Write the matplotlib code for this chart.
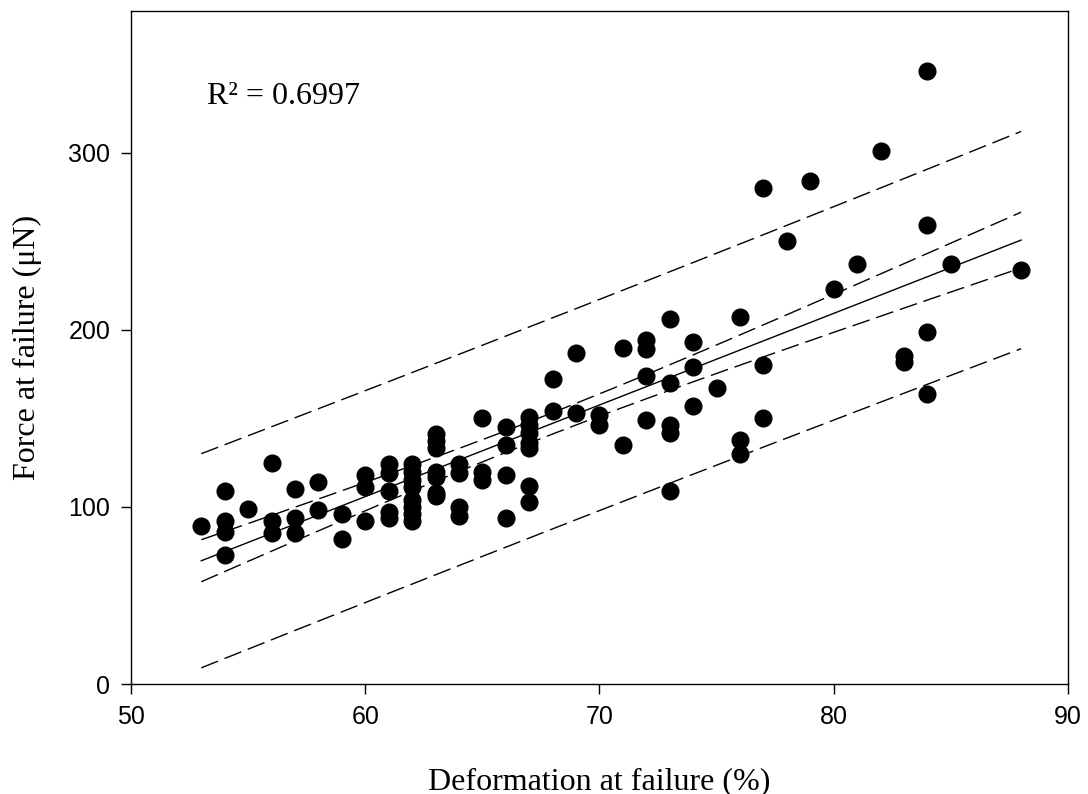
import numpy as np
import matplotlib
matplotlib.use('Agg')
import matplotlib.pyplot as plt

# deformation (%) and force (uN) at failure, grouped by deformation value
deformation = [53,
               54, 54, 54, 54,
               55,
               56, 56, 56,
               57, 57, 57,
               58, 58,
               59, 59,
               60, 60, 60,
               61, 61, 61, 61, 61,
               62, 62, 62, 62, 62, 62, 62, 62,
               63, 63, 63, 63, 63, 63, 63,
               64, 64, 64, 64,
               65, 65, 65,
               66, 66, 66, 66,
               67, 67, 67, 67, 67, 67, 67,
               68, 68,
               69, 69,
               70, 70,
               71, 71,
               72, 72, 72, 72,
               73, 73, 73, 73, 73,
               74, 74, 74,
               75,
               76, 76, 76,
               77, 77, 77,
               78, 79, 80, 81, 82,
               83, 83,
               84, 84, 84, 84,
               85, 88]
force = [89,
         109, 92, 86, 73,
         99,
         125, 92, 85,
         110, 94, 85,
         114, 98,
         96, 82,
         118, 111, 92,
         124, 119, 109, 97, 94,
         124, 120, 115, 111, 104, 100, 96, 92,
         141, 137, 133, 120, 117, 108, 106,
         124, 119, 100, 95,
         150, 120, 115,
         145, 135, 118, 94,
         151, 146, 142, 136, 133, 112, 103,
         172, 154,
         187, 153,
         152, 146,
         190, 135,
         194, 189, 174, 149,
         206, 170, 146, 142, 109,
         193, 179, 157,
         167,
         207, 138, 130,
         280, 180, 150,
         250, 284, 223, 237, 301,
         185, 182,
         346, 259, 199, 164,
         237, 234]

r2_label = 'R\u00b2 = 0.6997'
t_crit = 1.985  # two-sided 95%, df = n - 2

x = np.array(deformation, dtype=float)
y = np.array(force, dtype=float)
n = len(x)

slope, intercept = np.polyfit(x, y, 1)
resid = y - (intercept + slope * x)
s = np.sqrt((resid ** 2).sum() / (n - 2))
sxx = ((x - x.mean()) ** 2).sum()

xs = np.linspace(x.min(), x.max(), 200)
fit = intercept + slope * xs
se_mean = s * np.sqrt(1.0 / n + (xs - x.mean()) ** 2 / sxx)
se_pred = s * np.sqrt(1.0 + 1.0 / n + (xs - x.mean()) ** 2 / sxx)

serif = 'Liberation Serif'
sans = 'Liberation Sans'

fig = plt.figure(figsize=(10.88, 7.94), dpi=100)
ax = fig.add_axes([0.1204, 0.1385, 0.8612, 0.8476])

ax.plot(x, y, 'o', color='black', ms=12, zorder=3)
ax.plot(xs, fit, '-', color='black', lw=1.0)
dash = (0, (13, 5))
for band in (se_mean, se_pred):
    ax.plot(xs, fit + t_crit * band, color='black', lw=1.0, linestyle=dash)
    ax.plot(xs, fit - t_crit * band, color='black', lw=1.0, linestyle=dash)

ax.set_xlim(50, 90)
ax.set_ylim(0, 380)
ax.set_xticks([50, 60, 70, 80, 90])
ax.set_yticks([0, 100, 200, 300])
ax.tick_params(direction='out', length=7, width=1, pad=8, labelsize=18)
for lab in ax.get_xticklabels() + ax.get_yticklabels():
    lab.set_fontfamily(sans)
for sp in ax.spines.values():
    sp.set_linewidth(1.0)

ax.set_xlabel('Deformation at failure (%)', fontsize=23, fontfamily=serif)
ax.set_ylabel('Force at failure (\u03bcN)', fontsize=23, fontfamily=serif)
ax.xaxis.set_label_coords(0.5, -0.123)
ax.yaxis.set_label_coords(-0.095, 0.5)

ax.text(53.24, 331.6, r2_label, fontsize=23, fontfamily=serif, ha='left', va='center')

fig.savefig('out.png', dpi=100)
